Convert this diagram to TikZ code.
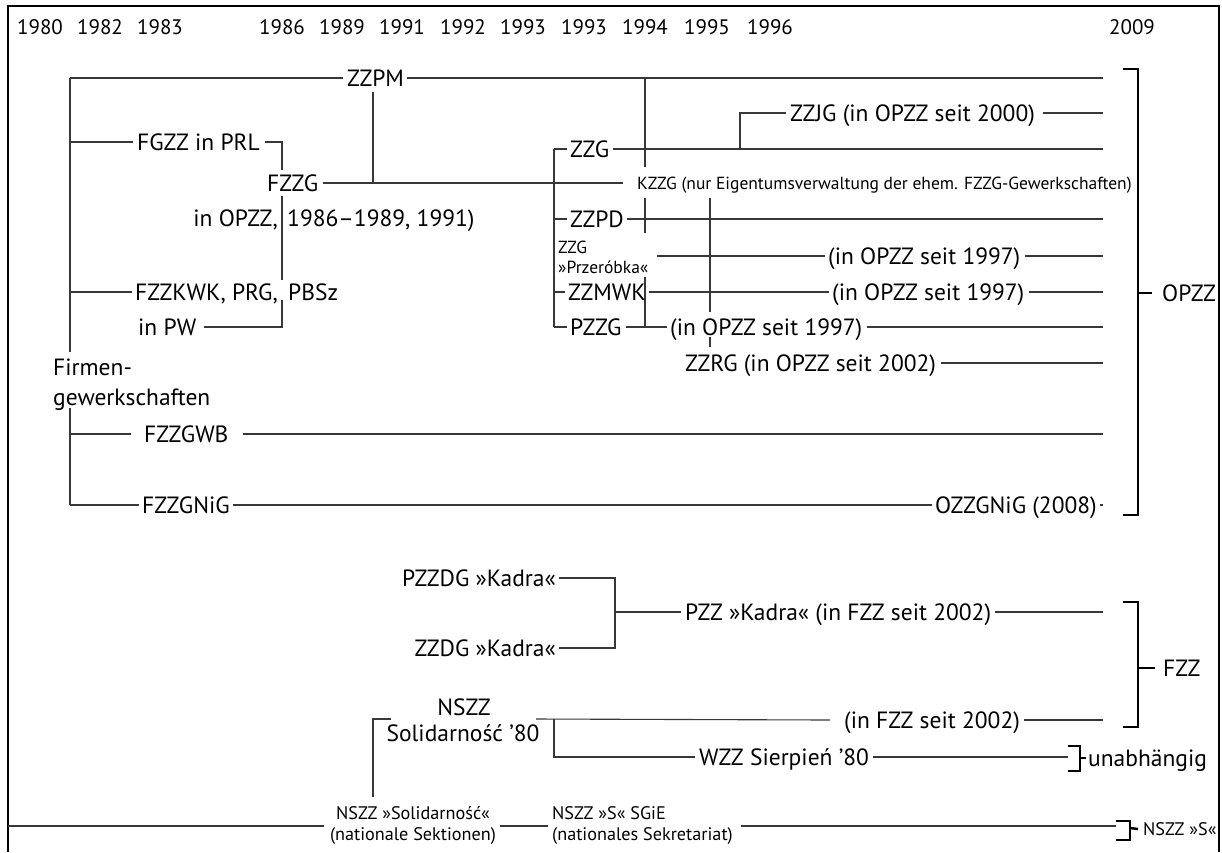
\documentclass[tikz,border=0pt]{standalone}
\usepackage{fontspec}
\setmainfont{PT Sans}
\newcommand\msz{\fontsize{23.5}{26}\selectfont}
\newcommand\ysz{\fontsize{21}{24}\selectfont}
\newcommand\ssz{\fontsize{17.5}{20}\selectfont}
\newcommand\bsz{\fontsize{18.2}{21}\selectfont}
\tikzset{
  lbl/.style={inner sep=0pt, font=\msz, text height=16.4pt, text depth=0pt},
  yr/.style={inner sep=0pt, font=\ysz, text height=14.7pt, text depth=0pt},
  sml/.style={inner sep=0pt, font=\ssz, text height=12.2pt, text depth=0pt},
  bsm/.style={inner sep=0pt, font=\bsz, text height=12.7pt, text depth=0pt},
  ln/.style={draw=black!78, line width=1.1pt},
  brk/.style={draw=black, line width=2.5pt},
}
\begin{document}
\begin{tikzpicture}[x=1pt,y=-1pt]
\useasboundingbox (0,0) rectangle (1222,852);
\draw[line width=1.2pt] (8,852) -- (8,6) -- (1219,6) -- (1219,852);

% years
\foreach \x/\t/\n in {40/1980/ya,100/1982/yb,160/1983/yc,282/1986/yd,342/1989/ye,402/1991/yf,463/1992/yg,523/1993/yh,584/1993/yi,645/1994/yj,707/1995/yk,770/1996/yl,1132/2009/ym}
  \node[yr] (\n) at (\x,27) {\t};

% ---------- OPZZ group ----------
\coordinate (tr0) at (70,78);
\coordinate (tr1) at (70,352);
\coordinate (tr2) at (70,408);
\coordinate (tr3) at (70,505);
\draw[ln] (tr0) -- (tr1);
\draw[ln] (tr2) -- (tr3);
\node[lbl,anchor=west] (firm1) at (53,367) {Firmen-};
\node[lbl,anchor=west] (firm2) at (53,397) {gewerkschaften};

\node[lbl,anchor=west] (zzpm) at (347,78) {ZZPM};
\draw[ln] (tr0) -- ([xshift=-4pt]zzpm.west);
\draw[ln] ([xshift=3pt]zzpm.east) -- (1103,78);

\node[lbl,anchor=west] (fgzz) at (137,142) {FGZZ in PRL};
\draw[ln] (70,142) -- ([xshift=-4pt]fgzz.west);
\draw[ln] ([xshift=5pt]fgzz.east) -- (282,142) -- (282,170);

\node[lbl,anchor=west] (fzzg) at (267,183) {FZZG};
\node[lbl,anchor=east] (inopzzA) at (278,218) {in OPZZ,};
\node[lbl,anchor=west] (inopzzB) at (287,218) {1986–1989, 1991)};
\draw[ln] (282,196) -- (282,280);
\draw[ln] ([xshift=5pt]fzzg.east) -- (623,183);
\draw[ln] (373,92) -- (373,183);
\node[sml,anchor=west] (kzzg) at (637,183) {KZZG (nur Eigentumsverwaltung der ehem. FZZG-Gewerkschaften)};

\node[lbl,anchor=east] (fzzkwk) at (278,292) {FZZKWK, PRG,};
\node[lbl,anchor=west] (pbsz) at (288,292) {PBSz};
\draw[ln] (70,292) -- ([xshift=-3pt]fzzkwk.west);
\node[lbl,anchor=west] (inpw) at (138,327) {in PW};
\draw[ln] (282,300) -- (282,327) -- ([xshift=8pt]inpw.east);

\node[lbl,anchor=west] (fzzgwb) at (144,434) {FZZGWB};
\draw[ln] (70,434) -- ([xshift=-13pt]fzzgwb.west);
\draw[ln] ([xshift=14pt]fzzgwb.east) -- (1103,434);

\node[lbl,anchor=west] (fzzgnig) at (142,505) {FZZGNiG};
\node[lbl,anchor=west] (ozzgnig) at (935,505) {OZZGNiG (2008)};
\draw[ln] (70,505) -- ([xshift=-3pt]fzzgnig.west);
\draw[ln] ([xshift=3pt]fzzgnig.east) -- ([xshift=-3pt]ozzgnig.west);
\draw[ln] (1100,505) -- (1103,505);

% middle cluster
\node[lbl,anchor=west] (zzg) at (570,149) {ZZG};
\draw[ln] ([xshift=4pt]zzg.east) -- (1103,149);
\draw[ln] (645,78) -- (645,167);
\draw[ln] (645,198) -- (645,233);
\draw[ln] (645,277) -- (645,327);
\draw[ln] (554,149) -- (554,327);
\draw[ln] (554,149) -- ([xshift=-3pt]zzg.west);

\node[lbl,anchor=west] (zzjg) at (790,113) {ZZJG (in OPZZ seit 2000)};
\draw[ln] (740,149) -- (740,113) -- ([xshift=-4pt]zzjg.west);
\draw[ln] ([xshift=8pt]zzjg.east) -- (1103,113);

\node[lbl,anchor=west] (zzpd) at (570,219) {ZZPD};
\draw[ln] (554,219) -- ([xshift=-3pt]zzpd.west);
\draw[ln] ([xshift=3pt]zzpd.east) -- (1103,219);

\draw[ln] (710,198) -- (710,312);
\draw[ln] (710,337) -- (710,347);

\node[sml,anchor=west] (przA) at (558,247) {ZZG};
\node[sml,anchor=west] (przB) at (558,267) {»Przeróbka«};
\node[lbl,anchor=west] (opA) at (828,256) {(in OPZZ seit 1997)};
\draw[ln] (657,256) -- ([xshift=-3pt]opA.west);
\draw[ln] ([xshift=4pt]opA.east) -- (1103,256);

\node[lbl,anchor=west] (zzmwk) at (568,292) {ZZMWK};
\node[lbl,anchor=west] (opB) at (832,292) {(in OPZZ seit 1997)};
\draw[ln] (554,292) -- ([xshift=-3pt]zzmwk.west);
\draw[ln] ([xshift=3pt]zzmwk.east) -- ([xshift=-3pt]opB.west);
\draw[ln] ([xshift=4pt]opB.east) -- (1103,292);

\node[lbl,anchor=west] (pzzg) at (570,327) {PZZG};
\node[lbl,anchor=west] (opC) at (670,327) {(in OPZZ seit 1997)};
\draw[ln] (554,327) -- ([xshift=-3pt]pzzg.west);
\draw[ln] ([xshift=4pt]pzzg.east) -- ([xshift=-3pt]opC.west);
\draw[ln] ([xshift=4pt]opC.east) -- (1103,327);

\node[lbl,anchor=west] (zzrg) at (685,363) {ZZRG (in OPZZ seit 2002)};
\draw[ln] ([xshift=5pt]zzrg.east) -- (1103,363);

% OPZZ bracket
\node[lbl,anchor=west] (opzz) at (1162,293) {OPZZ};
\draw[brk] (1123,69) -- (1138,69) -- (1138,515) -- (1123,515);
\draw[brk] (1138,293) -- ([xshift=-10pt]opzz.west);

% ---------- FZZ group ----------
\node[lbl,anchor=east] (pzzdg) at (556,578) {PZZDG »Kadra«};
\node[lbl,anchor=east] (zzdg) at (556,648) {ZZDG »Kadra«};
\draw[ln] ([xshift=3pt]pzzdg.east) -- (615,578) -- (615,648) -- ([xshift=3pt]zzdg.east);
\node[lbl,anchor=west] (pzzk) at (685,612) {PZZ »Kadra« (in FZZ seit 2002)};
\draw[ln] (615,612) -- ([xshift=-4pt]pzzk.west);
\draw[ln] ([xshift=4pt]pzzk.east) -- (1103,612);

\node[lbl] (nszz) at (464,707) {NSZZ};
\node[lbl] (sol80) at (463,733) {Solidarność ’80};
\draw[ln] (391,719) -- (373,719) -- (373,797);
\node[lbl,anchor=west] (infzz) at (844,720) {(in FZZ seit 2002)};
\draw[ln] (536,719) -- ([xshift=-14pt]infzz.west);
\draw[ln] ([xshift=4pt]infzz.east) -- (1103,720);
\node[lbl,anchor=west] (wzz) at (699,757) {WZZ Sierpień ’80};
\draw[ln] (554,719) -- (554,757) -- ([xshift=-4pt]wzz.west);
\draw[ln] ([xshift=4pt]wzz.east) -- (1068,757);

\draw[brk] (1068,746) -- (1080,746) -- (1080,771) -- (1068,771);
\node[lbl,anchor=west] (unab) at (1088,758) {unabhängig};
\draw[brk] (1080,758) -- ([xshift=-2pt]unab.west);

\node[lbl,anchor=west] (fzz) at (1163,668) {FZZ};
\draw[brk] (1123,602) -- (1138,602) -- (1138,727) -- (1123,727);
\draw[brk] (1138,668) -- ([xshift=-8pt]fzz.west);

% ---------- bottom ----------
\node[bsm] (solA) at (413,813) {NSZZ »Solidarność«};
\node[bsm] (solB) at (413,834) {(nationale Sektionen)};
\draw[ln] (8,826) -- ([xshift=-6pt]solB.west |- 0,826);
\node[bsm,anchor=west] (sgA) at (552,813) {NSZZ »S« SGiE};
\node[bsm,anchor=west] (sgB) at (552,834) {(nationales Sekretariat)};
\draw[ln] ([xshift=4pt]solB.east |- 0,826) -- ([xshift=-4pt]sgB.west |- 0,826);
\draw[ln] ([xshift=8pt]sgB.east |- 0,826) -- (1116,826);
\draw[brk] (1116,821) -- (1130,821) -- (1130,840) -- (1116,840);
\node[bsm,anchor=west] (nszzs) at (1143,829) {NSZZ »S«};
\draw[brk] (1130,828) -- ([xshift=-5pt]nszzs.west);
\end{tikzpicture}
\end{document}
